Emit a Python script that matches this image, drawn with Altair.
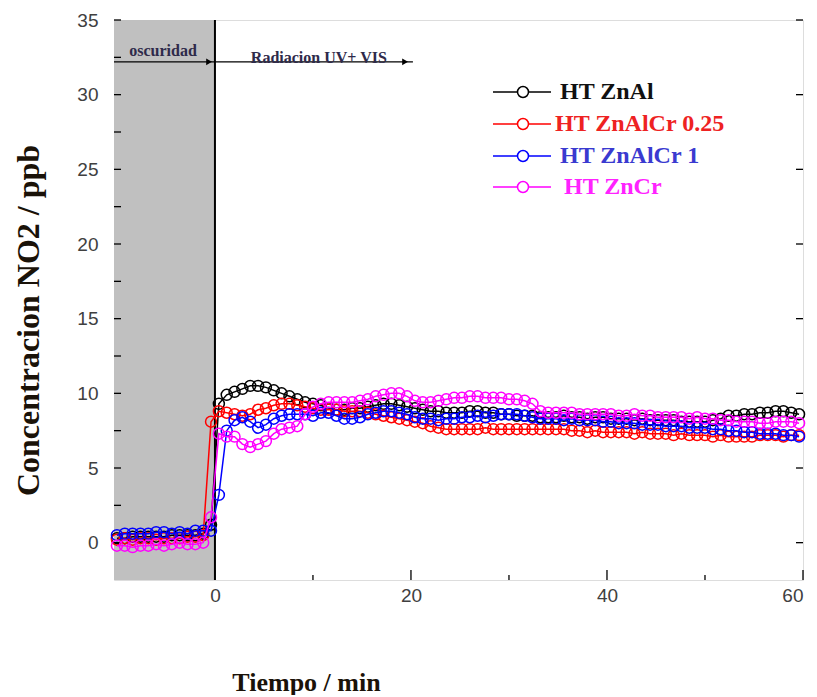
import altair as alt
import pandas as pd

# ---------------- data ----------------
times = [-10.0, -9.2, -8.4, -7.6, -6.8, -6.0, -5.2, -4.4, -3.6, -2.8, -2.0, -1.2, -0.4,
         0.4, 1.2, 2.0, 2.8, 3.6, 4.4, 5.2, 6.0, 6.8, 7.6, 8.4, 9.2, 10.0, 10.8, 11.6,
         12.4, 13.2, 14.0, 14.8, 15.6, 16.4, 17.2, 18.0, 18.8, 19.6, 20.4, 21.2, 22.0,
         22.8, 23.6, 24.4, 25.2, 26.0, 26.8, 27.6, 28.4, 29.2, 30.0, 30.8, 31.6, 32.4,
         33.2, 34.0, 34.8, 35.6, 36.4, 37.2, 38.0, 38.8, 39.6, 40.4, 41.2, 42.0, 42.8,
         43.6, 44.4, 45.2, 46.0, 46.8, 47.6, 48.4, 49.2, 50.0, 50.8, 51.6, 52.4, 53.2,
         54.0, 54.8, 55.6, 56.4, 57.2, 58.0, 58.8, 59.6]

ht_znal = [0.3, 0.3, 0.4, 0.4, 0.4, 0.4, 0.4, 0.5, 0.5, 0.5, 0.5, 0.6, 1.2,
           9.3, 9.9, 10.1, 10.3, 10.5, 10.5, 10.4, 10.2, 10.0, 9.8, 9.6, 9.4, 9.3, 9.2, 9.0,
           8.9, 8.9, 9.0, 9.0, 9.1, 9.2, 9.3, 9.3, 9.2, 9.1, 9.0, 8.9, 8.8,
           8.8, 8.7, 8.7, 8.7, 8.8, 8.8, 8.7, 8.7, 8.6, 8.6, 8.5, 8.5, 8.5,
           8.4, 8.4, 8.4, 8.5, 8.4, 8.4, 8.3, 8.4, 8.4, 8.3, 8.3, 8.3, 8.2,
           8.3, 8.2, 8.2, 8.2, 8.2, 8.1, 8.1, 8.1, 8.1, 8.2, 8.3, 8.5, 8.5,
           8.6, 8.6, 8.7, 8.7, 8.8, 8.8, 8.7, 8.6]

ht_znalcr_025 = [0.2, 0.3, 0.2, 0.3, 0.3, 0.2, 0.3, 0.3, 0.3, 0.4, 0.4, 0.5, 8.1,
                 8.8, 8.7, 8.6, 8.5, 8.6, 8.9, 9.0, 9.2, 9.3, 9.3, 9.2, 9.1, 9.0, 8.9, 8.9,
                 8.9, 8.8, 8.8, 8.8, 8.7, 8.6, 8.5, 8.4, 8.3, 8.2, 8.1, 8.0, 7.8,
                 7.7, 7.6, 7.6, 7.6, 7.6, 7.6, 7.7, 7.6, 7.6, 7.6, 7.6, 7.6, 7.6,
                 7.6, 7.6, 7.6, 7.6, 7.5, 7.5, 7.4, 7.5, 7.4, 7.4, 7.4, 7.4, 7.3,
                 7.4, 7.3, 7.3, 7.3, 7.2, 7.3, 7.2, 7.2, 7.2, 7.1, 7.2, 7.1, 7.1,
                 7.1, 7.1, 7.2, 7.2, 7.2, 7.1, 7.2, 7.2]

ht_znalcr_1 = [0.5, 0.6, 0.6, 0.6, 0.6, 0.7, 0.7, 0.6, 0.7, 0.6, 0.8, 0.8, 0.8,
               3.2, 7.5, 8.2, 8.4, 8.1, 7.7, 7.9, 8.3, 8.5, 8.6, 8.6, 8.6, 8.5, 8.7, 8.7,
               8.5, 8.3, 8.3, 8.4, 8.6, 8.7, 8.8, 8.8, 8.7, 8.6, 8.4, 8.3, 8.3,
               8.2, 8.3, 8.3, 8.4, 8.4, 8.5, 8.4, 8.5, 8.6, 8.6, 8.6, 8.5, 8.4,
               8.3, 8.3, 8.3, 8.2, 8.3, 8.2, 8.2, 8.2, 8.1, 8.1, 8.0, 8.0, 8.0,
               7.9, 7.9, 7.9, 7.8, 7.8, 7.8, 7.7, 7.7, 7.7, 7.6, 7.6, 7.5, 7.5,
               7.4, 7.4, 7.3, 7.3, 7.3, 7.2, 7.2, 7.1]

ht_zncr = [-0.2, -0.2, -0.3, -0.2, -0.2, -0.1, -0.2, -0.1, 0.0, -0.1, -0.1, 0.0, 1.7,
           7.3, 7.1, 7.1, 6.6, 6.4, 6.6, 6.8, 7.3, 7.6, 7.7, 7.8, 8.6, 9.1, 9.3, 9.4,
           9.4, 9.4, 9.4, 9.5, 9.6, 9.8, 9.9, 10.0, 10.0, 9.8, 9.5, 9.4, 9.4,
           9.5, 9.6, 9.7, 9.7, 9.8, 9.8, 9.7, 9.7, 9.7, 9.6, 9.6, 9.5, 9.3,
           8.8, 8.7, 8.7, 8.7, 8.7, 8.6, 8.6, 8.6, 8.6, 8.6, 8.5, 8.5, 8.6,
           8.5, 8.5, 8.4, 8.4, 8.4, 8.4, 8.3, 8.4, 8.3, 8.3, 8.2, 8.2, 8.1,
           8.1, 8.1, 8.0, 8.0, 8.1, 8.1, 8.1, 8.0]

series_names = ["HT ZnAl", "HT ZnAlCr 0.25", "HT ZnAlCr 1", "HT ZnCr"]
series_values = [ht_znal, ht_znalcr_025, ht_znalcr_1, ht_zncr]
series_colors = ["#000000", "#ff0000", "#0000ff", "#ff00ff"]
legend_text_colors = ["#111111", "#ee2222", "#3a3ad0", "#ff22ff"]

x_ticks = [0, 20, 40, 60]
x_minor = [10, 30, 50]
y_ticks = [0, 5, 10, 15, 20, 25, 30, 35]
y_minor = [2.5, 7.5, 12.5, 17.5, 22.5, 27.5, 32.5]

X_MIN, X_MAX = -10.3, 60
Y_MIN, Y_MAX = -2.5, 35
dark_end = 0
arrow_y = 32.2
arrow_end = 20.2
arrow_heads = [-0.6, 19.4]
annotations = [("oscuridad", -5.3, 32.9), ("Radiacion UV+ VIS", 10.6, 32.45)]

# ---------------- layout ----------------
W, H = 689, 560
SERIF = "Liberation Serif"
SANS = "Liberation Sans"

xscale = alt.Scale(domain=[X_MIN, X_MAX], nice=False, zero=False)
yscale = alt.Scale(domain=[Y_MIN, Y_MAX], nice=False, zero=False)

xaxis = alt.Axis(values=x_ticks, grid=False, tickSize=0, domain=False, labelPadding=6,
                 labelFont=SANS, labelFontSize=19, labelColor="#404040",
                 title="Tiempo / min", titleFont=SERIF, titleFontSize=26,
                 titleFontWeight="bold", titleColor="#1a1208",
                 titleX=192, titleY=102, titleAlign="center", titleBaseline="middle")
yaxis = alt.Axis(values=y_ticks, grid=False, tickSize=0, domain=False, labelPadding=16,
                 labelFont=SANS, labelFontSize=19, labelColor="#404040",
                 title="Concentracion NO2 / ppb", titleFont=SERIF, titleFontSize=32,
                 titleFontWeight="bold", titleColor="#1a1208", titleAngle=270,
                 titleX=-86, titleY=300, titleAlign="center", titleBaseline="middle")

X = lambda f="t": alt.X(f"{f}:Q", scale=xscale, axis=xaxis)
Y = lambda f="v": alt.Y(f"{f}:Q", scale=yscale, axis=yaxis)

# dark region
dark = alt.Chart(pd.DataFrame({"t": [X_MIN], "t2": [dark_end]})).mark_rect(
    color="#c0c0c0").encode(x=X(), x2="t2:Q", y=alt.value(0), y2=alt.value(H))
dark_line = alt.Chart(pd.DataFrame({"t": [dark_end]})).mark_rule(
    color="#000000", strokeWidth=2).encode(x=X(), y=alt.value(0), y2=alt.value(H))

# ticks (inward)
left_ticks = alt.Chart(pd.DataFrame({"v": y_ticks + y_minor})).mark_rule(
    color="#000", strokeWidth=1.3).encode(y=Y(), x=alt.value(0), x2=alt.value(7))
right_ticks = alt.Chart(pd.DataFrame({"v": y_ticks})).mark_rule(
    color="#000", strokeWidth=1.3).encode(y=Y(), x=alt.value(W - 7), x2=alt.value(W))
bottom_major = alt.Chart(pd.DataFrame({"t": x_ticks})).mark_rule(
    color="#000", strokeWidth=1.3).encode(x=X(), y=alt.value(H - 10), y2=alt.value(H))
bottom_minor = alt.Chart(pd.DataFrame({"t": x_minor})).mark_rule(
    color="#000", strokeWidth=1.3).encode(x=X(), y=alt.value(H - 5), y2=alt.value(H))

layers = [dark, left_ticks, right_ticks, bottom_major, bottom_minor, dark_line]

# series
for name, vals, col in zip(series_names, series_values, series_colors):
    df = pd.DataFrame({"t": times, "v": vals, "s": name})
    base = alt.Chart(df)
    layers.append(base.mark_line(color=col, strokeWidth=1.5).encode(x=X(), y=Y()))
    layers.append(base.mark_point(color=col, filled=False, size=120, strokeWidth=1.5,
                                  opacity=1).encode(x=X(), y=Y()))

# annotation arrow
arrow = alt.Chart(pd.DataFrame({"t": [X_MIN], "t2": [arrow_end], "v": [arrow_y]})).mark_rule(
    color="#000", strokeWidth=1.3).encode(x=X(), x2="t2:Q", y=Y())
heads = alt.Chart(pd.DataFrame({"t": arrow_heads, "v": [arrow_y] * len(arrow_heads)})).mark_point(
    shape="triangle-right", filled=True, color="#000", size=45, opacity=1).encode(x=X(), y=Y())
ann = alt.Chart(pd.DataFrame({"label": [a[0] for a in annotations],
                              "t": [a[1] for a in annotations],
                              "v": [a[2] for a in annotations]})).mark_text(
    font=SERIF, fontSize=16, fontWeight="bold", color="#2e2a4a", align="center",
    baseline="middle").encode(x=X(), y=Y(), text="label:N")
layers += [arrow, heads, ann]

# legend (manual, to colour each label)
leg_y = [72, 104, 136, 167]
leg_tx = [446, 441, 446, 450]
for name, col, tcol, ly, tx in zip(series_names, series_colors, legend_text_colors, leg_y, leg_tx):
    d = alt.Chart(pd.DataFrame({"label": [name]}))
    layers.append(d.mark_rule(color=col, strokeWidth=1.5).encode(
        x=alt.value(379), x2=alt.value(437), y=alt.value(ly)))
    layers.append(d.mark_point(color=col, filled=False, size=120, strokeWidth=1.5, opacity=1,
                               fill="white", fillOpacity=1).encode(
        x=alt.value(409), y=alt.value(ly)))
    layers.append(d.mark_text(font=SERIF, fontSize=24, fontWeight="bold", color=tcol,
                              align="left", baseline="middle").encode(
        x=alt.value(tx), y=alt.value(ly), text="label:N"))

chart = alt.layer(*layers).properties(
    width=W, height=H,
    autosize=alt.AutoSizeParams(type="none"),
    padding={"left": 106, "top": 12, "right": 6, "bottom": 115},
).configure_view(stroke="#000", strokeWidth=1.5).configure(background="white")

chart.save("out.html", embed_options={"renderer": "svg", "actions": False})
